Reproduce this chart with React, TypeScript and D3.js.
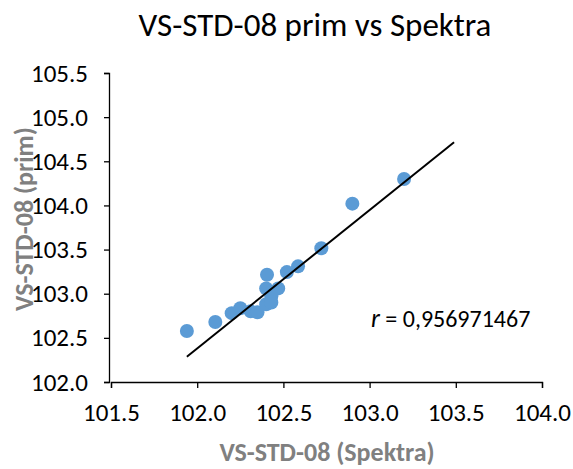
import { useRef, useEffect } from 'react';
import * as d3 from 'd3';

const W = 573;
const H = 469;
const MARGIN = { top: 73, right: 31, bottom: 87, left: 111 };
const DOT_COLOR = '#5b9bd5';
const FONT = 'Carlito, Calibri, "Open Sans", sans-serif';

const spektra = [101.94, 102.105, 102.2, 102.25, 102.31, 102.35, 102.405, 102.4, 102.47, 102.43, 102.4, 102.43, 102.52, 102.585, 102.72, 102.9, 103.2];
const prim = [102.578, 102.68, 102.78, 102.835, 102.8, 102.79, 103.215, 103.06, 103.06, 102.97, 102.88, 102.9, 103.245, 103.31, 103.515, 104.02, 104.3];
const trendX = [101.94, 103.49];
const trendY = [102.287, 104.715];
const xTicks = [101.5, 102.0, 102.5, 103.0, 103.5, 104.0];
const yTicks = [102.0, 102.5, 103.0, 103.5, 104.0, 104.5, 105.0, 105.5];

function App() {
  const svgRef = useRef<SVGSVGElement>(null);

  useEffect(() => {
    const svg = d3.select(svgRef.current);
    svg.selectAll('*').remove();

    const x = d3.scaleLinear().domain([101.5, 104.0]).range([MARGIN.left, W - MARGIN.right]);
    const y = d3.scaleLinear().domain([102.0, 105.5]).range([H - MARGIN.bottom, MARGIN.top]);

    svg.append('rect').attr('width', W).attr('height', H).attr('fill', '#fff');

    // Title
    svg.append('text')
      .attr('x', 315).attr('y', 36)
      .attr('text-anchor', 'middle')
      .attr('font-family', FONT).attr('font-size', 33)
      .attr('fill', '#000')
      .text('VS-STD-08 prim vs Spektra');

    // X axis
    svg.append('g')
      .attr('transform', `translate(0,${y(102.0)})`)
      .call(d3.axisBottom(x).tickValues(xTicks).tickSize(6).tickPadding(15).tickFormat(d3.format('.1f')))
      .call(g => g.select('.domain').attr('stroke', '#000').attr('stroke-width', 1.3))
      .call(g => g.selectAll('.tick line').attr('stroke', '#000').attr('stroke-width', 1.3))
      .call(g => g.selectAll('.tick text').attr('fill', '#000').attr('font-size', 25).attr('font-family', FONT));

    // Y axis
    svg.append('g')
      .attr('transform', `translate(${x(101.5) - 2},0)`)
      .call(d3.axisLeft(y).tickValues(yTicks).tickSize(5).tickPadding(16).tickFormat(d3.format('.1f')))
      .call(g => g.select('.domain').attr('stroke', '#000').attr('stroke-width', 1.3))
      .call(g => g.selectAll('.tick line').attr('stroke', '#000').attr('stroke-width', 1.3))
      .call(g => g.selectAll('.tick text').attr('fill', '#000').attr('font-size', 25).attr('font-family', FONT));

    // Axis titles
    svg.append('text')
      .attr('x', 327).attr('y', 461)
      .attr('text-anchor', 'middle')
      .attr('font-family', FONT).attr('font-size', 26).attr('font-weight', 'bold')
      .attr('fill', '#808080')
      .text('VS-STD-08 (Spektra)');

    svg.append('text')
      .attr('transform', `translate(33,219) rotate(-90)`)
      .attr('text-anchor', 'middle')
      .attr('font-family', FONT).attr('font-size', 26).attr('font-weight', 'bold')
      .attr('fill', '#808080')
      .text('VS-STD-08 (prim)');

    // Points
    svg.append('g')
      .selectAll('circle')
      .data(spektra.map((s, i) => [s, prim[i]]))
      .join('circle')
      .attr('cx', d => x(d[0]))
      .attr('cy', d => y(d[1]))
      .attr('r', 7)
      .attr('fill', DOT_COLOR);

    // Trend line
    svg.append('line')
      .attr('x1', x(trendX[0])).attr('y1', y(trendY[0]))
      .attr('x2', x(trendX[1])).attr('y2', y(trendY[1]))
      .attr('stroke', '#000').attr('stroke-width', 2);

    // r label
    const rt = svg.append('text')
      .attr('x', 371).attr('y', 327)
      .attr('font-family', FONT).attr('font-size', 24)
      .attr('fill', '#000');
    rt.append('tspan').attr('font-style', 'italic').attr('font-size', 26).text('r');
    rt.append('tspan').text(' = 0,956971467');
  }, []);

  return (
    <svg
      ref={svgRef}
      width={W}
      height={H}
      style={{ position: 'absolute', left: 0, top: 0, display: 'block' }}
    />
  );
}

export default App;
